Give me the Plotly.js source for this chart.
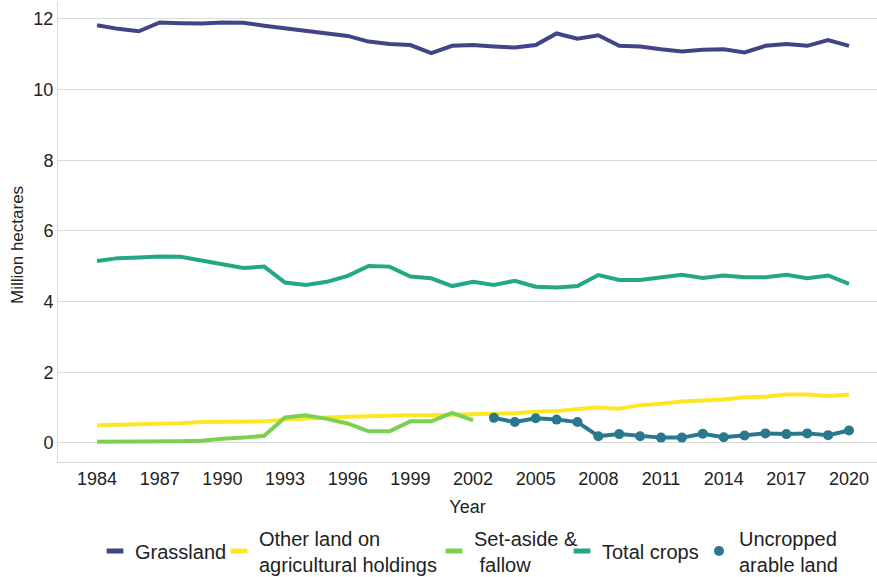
<!DOCTYPE html>
<html>
<head>
<meta charset="utf-8">
<script src="https://cdn.plot.ly/plotly-3.0.1.min.js"></script>
<style>html,body{margin:0;padding:0;background:#fff;}#chart{width:877px;height:577px;}</style>
</head>
<body>
<div id="chart"></div>
<script>
const years = [1984,1985,1986,1987,1988,1989,1990,1991,1992,1993,1994,1995,1996,1997,1998,1999,2000,2001,2002,2003,2004,2005,2006,2007,2008,2009,2010,2011,2012,2013,2014,2015,2016,2017,2018,2019,2020];
const grassland = [11.82,11.72,11.65,11.90,11.88,11.87,11.90,11.89,11.81,11.74,11.67,11.58,11.52,11.36,11.29,11.26,11.03,11.24,11.26,11.22,11.19,11.26,11.59,11.44,11.54,11.24,11.22,11.14,11.08,11.13,11.14,11.05,11.24,11.29,11.24,11.40,11.24];
const otherLand = [0.50,0.51,0.52,0.55,0.56,0.59,0.60,0.60,0.61,0.66,0.70,0.72,0.74,0.76,0.77,0.78,0.78,0.79,0.81,0.83,0.84,0.88,0.90,0.96,1.00,0.97,1.07,1.11,1.17,1.20,1.23,1.29,1.31,1.37,1.37,1.33,1.37];
const setAsideYears = [1984,1985,1986,1987,1988,1989,1990,1991,1992,1993,1994,1995,1996,1997,1998,1999,2000,2001,2002];
const setAside = [0.03,0.03,0.03,0.03,0.05,0.06,0.12,0.15,0.20,0.72,0.78,0.68,0.55,0.33,0.33,0.61,0.61,0.85,0.64];
const totalCrops = [5.15,5.23,5.25,5.28,5.27,5.16,5.04,4.95,4.99,4.54,4.47,4.56,4.73,5.01,4.99,4.71,4.66,4.44,4.56,4.47,4.59,4.42,4.40,4.44,4.75,4.61,4.61,4.69,4.76,4.67,4.74,4.69,4.69,4.76,4.66,4.74,4.50];
const uncroppedYears = [2003,2004,2005,2006,2007,2008,2009,2010,2011,2012,2013,2014,2015,2016,2017,2018,2019,2020];
const uncropped = [0.71,0.59,0.70,0.66,0.59,0.19,0.25,0.19,0.15,0.15,0.26,0.16,0.21,0.27,0.25,0.27,0.22,0.35];
const tickYears = [1984,1987,1990,1993,1996,1999,2002,2005,2008,2011,2014,2017,2020];
const yTicks = [0,2,4,6,8,10,12];
const seriesNames = ['Grassland', 'Other land on<br>agricultural holdings', 'Set-aside &<br> fallow', 'Total crops', 'Uncropped<br>arable land'];
const seriesColors = ['#414487', '#FDE725', '#7AD151', '#22A884', '#2A788E'];

const font = 'Liberation Sans, Arial, sans-serif';
const W = 877, H = 577;
const dataX = [years, years, setAsideYears, years, uncroppedYears];
const dataY = [grassland, otherLand, setAside, totalCrops, uncropped];
const legendIds = ['legend', 'legend2', 'legend3', 'legend4', 'legend5'];
const traces = [];
dataY.forEach((vals, i) => {
  const t = {x: dataX[i], y: vals, name: seriesNames[i], showlegend: false,
    mode: 'lines', line: {color: seriesColors[i], width: 4}};
  if (i === 4) { t.mode = 'lines+markers'; t.marker = {color: seriesColors[i], size: 10}; }
  traces.push(t);
});
// legend keys (short dash / dot, as in the reference)
dataY.forEach((vals, i) => {
  const t = {x: [null], y: [null], name: seriesNames[i], legend: legendIds[i], showlegend: true, mode: 'markers',
    marker: {symbol: 'line-ew', size: 12, color: seriesColors[i], line: {color: seriesColors[i], width: 5}}};
  if (i === 4) t.marker = {symbol: 'circle', size: 10, color: seriesColors[i]};
  traces.push(t);
});
function leg(px) {
  return {xref: 'container', yref: 'container', x: px / W, xanchor: 'left', y: 1 - 551 / H, yanchor: 'middle',
          font: {size: 20, color: '#222'}, itemwidth: 30, valign: 'middle', bgcolor: 'rgba(0,0,0,0)', borderwidth: 0};
}
const layout = {
  width: W, height: H,
  margin: {l: 58, r: 0, t: 2, b: 115, autoexpand: false},
  paper_bgcolor: '#fff', plot_bgcolor: '#fff',
  font: {family: font, color: '#222', size: 18},
  showlegend: true,
  legend: leg(133 - 38),
  legend2: leg(257 - 38),
  legend3: leg(472 - 38),
  legend4: leg(600 - 38),
  legend5: leg(737 - 38),
  xaxis: {
    range: [1982.13, 2021.34], tickvals: tickYears, ticktext: tickYears.map(String),
    showgrid: false, showline: true, linecolor: '#d9d9d9', linewidth: 1, ticks: '', zeroline: false,
    title: {text: 'Year', font: {size: 18, color: '#222'}, standoff: 12},
    tickfont: {size: 18, color: '#222'}
  },
  yaxis: {
    range: [-0.54, 12.48], tickvals: yTicks, showgrid: true, gridcolor: '#d9d9d9', gridwidth: 1,
    showline: true, linecolor: '#d9d9d9', linewidth: 1, zeroline: false, ticks: '',
    tickfont: {size: 18, color: '#222'}
  },
  annotations: [{
    text: 'Million hectares', textangle: -90, xref: 'paper', yref: 'paper', x: (18 - 58) / (W - 58), y: 1 - (245 - 2) / 460,
    xanchor: 'center', yanchor: 'middle', showarrow: false, font: {size: 17, color: '#222'}
  }]
};
Plotly.newPlot('chart', traces, layout, {displayModeBar: false, staticPlot: true});
</script>
</body>
</html>
